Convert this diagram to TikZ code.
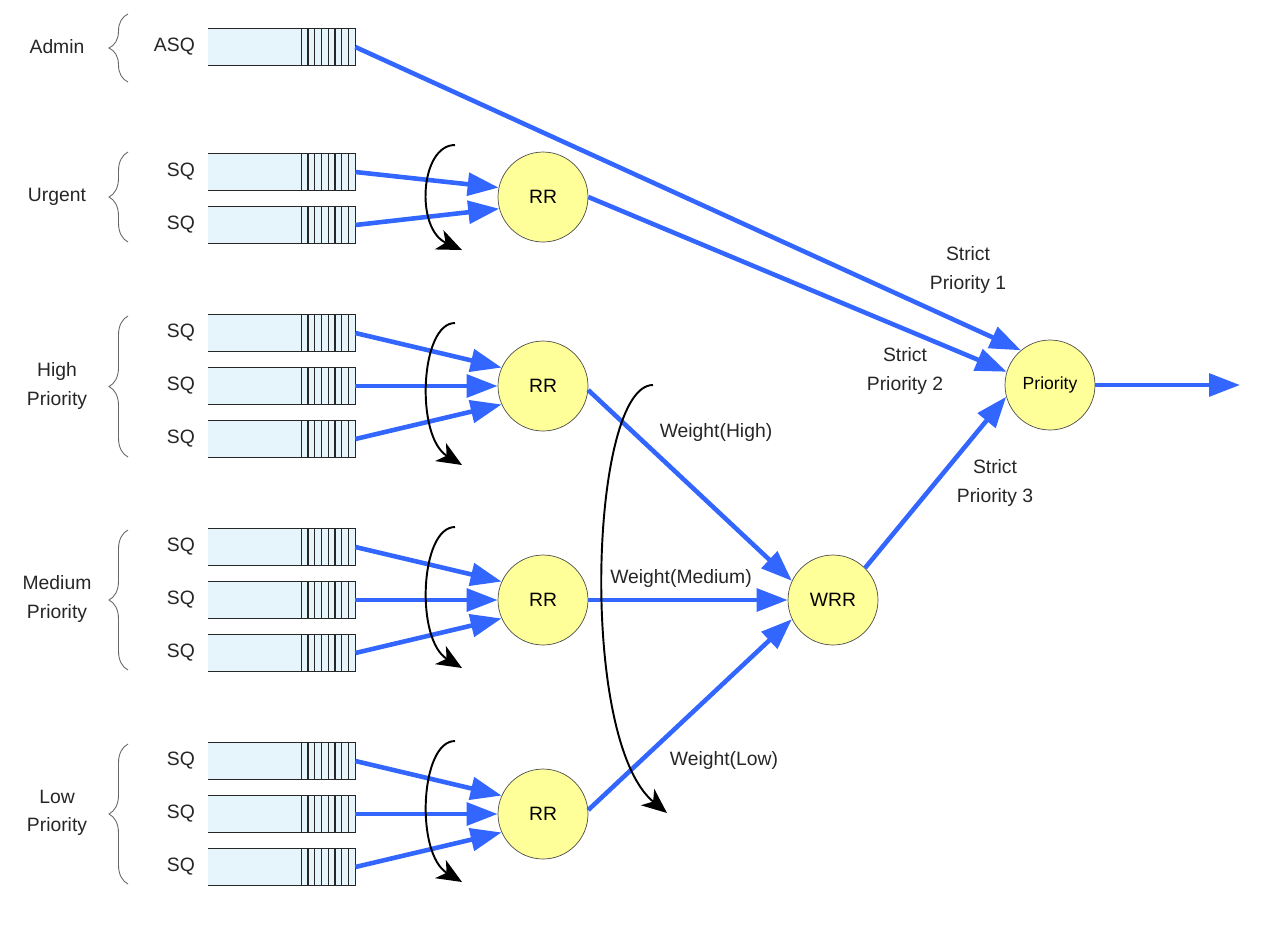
\documentclass[tikz,border=0pt]{standalone}
\usepackage{fontspec}
\setmainfont{Liberation Sans}
\usetikzlibrary{arrows.meta,decorations.pathreplacing}

\definecolor{flowblue}{RGB}{51,102,255}
\definecolor{rrfill}{RGB}{255,255,153}
\definecolor{qfill}{RGB}{230,244,252}

\tikzset{
  qbody/.style={fill=qfill, minimum width=2.94cm, minimum height=0.74cm, inner sep=0pt},
  qline/.style={draw=black!85, line width=0.7pt},
  sched/.style={circle, fill=rrfill, draw=black!70, line width=0.4pt, minimum size=1.8cm,
    inner sep=0pt, font=\fontsize{11}{13}\selectfont},
  lbl/.style={font=\fontsize{11}{16}\selectfont, align=center, text=black!85},
  flow/.style={draw=flowblue, line width=2.6pt, -{Triangle[length=0.62cm,width=0.45cm]}},
  turn/.style={draw=black, line width=1.1pt, -{Stealth[length=0.5cm,width=0.42cm,inset=0.14cm]}},
  grp/.style={draw=black!60, line width=0.5pt, decorate,
    decoration={brace, amplitude=0.38cm, aspect=0.5}},
}

% one submission queue: name, y, label
\newcommand{\queuebox}[3]{%
  \node[qbody] (#1) at (281.5,#2) {};
  \draw[qline] (#1.north west) -- (#1.north east) -- (#1.south east) -- (#1.south west);
  \foreach \k in {1,...,8}
    \draw[qline] ([xshift={-\k*0.135cm}]#1.north east) -- ([xshift={-\k*0.135cm}]#1.south east);
  \node[lbl, anchor=east] (#1-t) at (201,#2) {#3};
}

\begin{document}
\begin{tikzpicture}[x=0.02cm, y=-0.02cm]
  \useasboundingbox (0,0) rectangle (1280,934);

  % Queues
  \queuebox{asq}{47}{ASQ}
  \queuebox{u1}{172}{SQ}
  \queuebox{u2}{225}{SQ}
  \queuebox{h1}{333}{SQ}
  \queuebox{h2}{386}{SQ}
  \queuebox{h3}{439}{SQ}
  \queuebox{m1}{547}{SQ}
  \queuebox{m2}{600}{SQ}
  \queuebox{m3}{653}{SQ}
  \queuebox{l1}{761}{SQ}
  \queuebox{l2}{814}{SQ}
  \queuebox{l3}{867}{SQ}

  % Groups
  \draw[grp] (128,82) -- (128,14);
  \draw[grp] (128,242) -- (128,152);
  \draw[grp] (128,457) -- (128,316);
  \draw[grp] (128,670) -- (128,530);
  \draw[grp] (128,884) -- (128,744);
  \node[lbl] (gadm) at (57,47) {Admin};
  \node[lbl] (gurg) at (57,197) {Urgent};
  \node[lbl] (ghigh) at (57,386) {High\\Priority};
  \node[lbl] (gmed) at (57,599) {Medium\\Priority};
  \node[lbl] (glow) at (57,813) {Low\\Priority};

  % Schedulers
  \node[sched] (rru) at (543,197) {RR};
  \node[sched] (rrh) at (543,386) {RR};
  \node[sched] (rrm) at (543,600) {RR};
  \node[sched] (rrl) at (543,814) {RR};
  \node[sched] (wrr) at (833,600) {WRR};
  \node[sched, font=\fontsize{10}{12}\selectfont] (prio) at (1050,385) {Priority};
  \coordinate (out) at (1240,385);

  % Flows
  \draw[flow] (asq.east) -- (prio.130);
  \draw[flow] (u1.east) -- (rru.168);
  \draw[flow] (u2.east) -- (rru.195);
  \draw[flow] (rru.east) -- (prio.163);
  \foreach \g in {h,m,l} {
    \draw[flow] (\g1.east) -- (rr\g.156);
    \draw[flow] (\g2.east) -- (rr\g.west);
    \draw[flow] (\g3.east) -- (rr\g.204);
  }
  \draw[flow] (rrh.355) -- (wrr.155);
  \draw[flow] (rrm.east) -- (wrr.west);
  \draw[flow] (rrl.5) -- (wrr.205);
  \draw[flow] (wrr.45) -- (prio.195);
  \draw[flow] (prio.east) -- (out);

  % Round robin turns
  \foreach \t/\b in {145/250,323/465,527/668,741/882}
    \draw[turn] (455,\t) .. controls (420,\t) and (415,{\t+0.8*(\b-\t)}) .. (462,\b);
  \draw[turn] (653,385) .. controls (590,385) and (578,740) .. (667,813);

  % Labels
  \node[lbl] (wh) at (716,432) {Weight(High)};
  \node[lbl] (wm) at (681,578) {Weight(Medium)};
  \node[lbl] (wl) at (724,760) {Weight(Low)};
  \node[lbl] (sp1) at (968,270) {Strict\\Priority 1};
  \node[lbl] (sp2) at (905,371) {Strict\\Priority 2};
  \node[lbl] (sp3) at (995,483) {Strict\\Priority 3};
\end{tikzpicture}
\end{document}
